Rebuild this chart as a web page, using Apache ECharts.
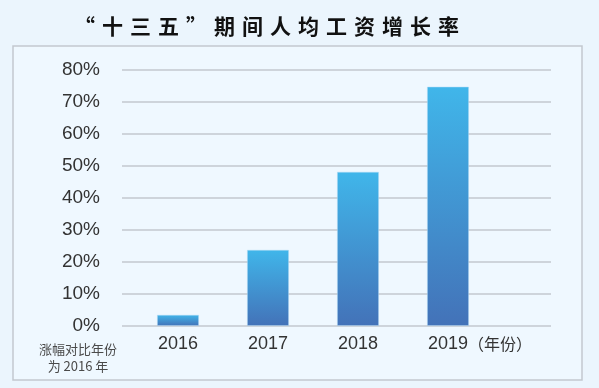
<!DOCTYPE html>
<html><head><meta charset="utf-8">
<script src="https://cdn.jsdelivr.net/npm/echarts@6/dist/echarts.min.js"></script>
<style>html,body{margin:0;padding:0;background:#ebf5fd;}#c{width:599px;height:388px;}</style>
</head><body><div id="c"></div>
<script>
const titleText = '“十三五”期间人均工资增长率';
const categories = ['2016', '2017', '2018', '2019'];
const values = [3.5, 23.8, 48.2, 74.8];
const yTicks = [0, 10, 20, 30, 40, 50, 60, 70, 80];
const lastSuffix = '（年份）';
const noteText = '涨幅对比年份\n为 2016 年';

const chart = echarts.init(document.getElementById('c'), null, {renderer: 'canvas'});
const spaced = titleText.split('').join('\u2004');
const yMax = yTicks[yTicks.length - 1];
chart.setOption({
  backgroundColor: '#ebf5fd',
  animation: false,
  title: {
    text: spaced, left: 69, top: 11,
    textStyle: {fontFamily: 'Noto Sans CJK SC', fontSize: 21, fontWeight: 'bold', color: '#111'}
  },
  graphic: [
    {type: 'rect', z: -1, shape: {x: 13, y: 46, width: 569, height: 334},
     style: {fill: '#eff8ff', stroke: '#c3c8cf', lineWidth: 1.5}},
    {type: 'text', left: 39, top: 341, style: {text: noteText, fontFamily: 'Noto Sans CJK SC', fontSize: 13, lineHeight: 17, fill: '#4a4a4a', textAlign: 'center'}}
  ],
  grid: [
    {left: 122, right: 48, top: 70, bottom: 62},
    {left: 133, right: 106, top: 70, bottom: 62}
  ],
  xAxis: [
    {gridIndex: 0, type: 'value', min: 0, max: 1, show: false},
    {gridIndex: 1, type: 'category', data: categories,
     axisLine: {show: false}, axisTick: {show: false},
     axisLabel: {
       interval: 0, margin: 9, fontSize: 18, color: '#333', fontFamily: 'Liberation Sans',
       formatter: (v, i) => i === categories.length - 1 ? '{h|' + lastSuffix + '}' + v + '{s|' + lastSuffix + '}' : v,
       rich: {
         h: {fontSize: 16, color: 'rgba(0,0,0,0)', fontFamily: 'Noto Sans CJK SC'},
         s: {fontSize: 16, color: '#333', fontFamily: 'Noto Sans CJK SC'}
       }
     }}
  ],
  yAxis: [
    {gridIndex: 0, type: 'value', min: 0, max: yMax, interval: 10,
     axisLine: {show: false}, axisTick: {show: false},
     splitLine: {show: true, lineStyle: {color: '#c3c8cf', width: 1.5}},
     axisLabel: {margin: 22, fontSize: 19, color: '#333', fontFamily: 'Liberation Sans', formatter: '{value}%'}},
    {gridIndex: 1, type: 'value', min: 0, max: yMax, interval: 10, show: false, splitLine: {show: false}}
  ],
  series: [{
    type: 'bar', xAxisIndex: 1, yAxisIndex: 1, data: values, barWidth: 42,
    itemStyle: {
      color: new echarts.graphic.LinearGradient(0, 0, 0, 1, [
        {offset: 0, color: '#40b6ea'}, {offset: 1, color: '#4372b8'}
      ]),
      borderColor: 'rgba(180,220,245,0.6)', borderWidth: 0.8
    }
  }]
});
</script></body></html>
